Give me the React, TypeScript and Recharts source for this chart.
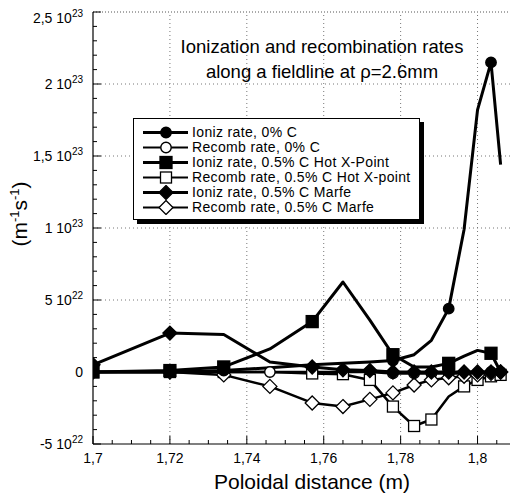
import React from "react";
import { LineChart, Line, XAxis, YAxis, ReferenceLine, Legend } from "recharts";

// poloidal distance along the fieldline (m)
const distance = [1.7, 1.72, 1.734, 1.746, 1.757, 1.765, 1.772, 1.778, 1.7835, 1.788, 1.7925, 1.7965, 1.8, 1.8035, 1.806];

// rates, in units of 1e22 m^-1 s^-1
const ionizC0 = [0, 0, 0.1, 0.3, 0.5, 0.6, 0.7, 0.8, 1.2, 2.2, 4.4, 9.9, 18.2, 21.5, 14.4];
const recombC0 = [0, 0, 0, 0, 0, 0, 0, -0.1, -0.1, -0.1, -0.1, -0.1, -0.1, 0, 0];
const ionizHot = [0, 0.1, 0.35, 1.6, 3.5, 6.25, 3.6, 1.2, 0.35, 0.35, 0.6, 1.1, 1.5, 1.3, 0];
const recombHot = [0, 0, 0, 0, -0.1, -0.15, -0.55, -2.4, -3.75, -3.3, -1.7, -1.0, -0.55, -0.3, -0.2];
const ionizMarfe = [0.5, 2.7, 2.6, 0.7, 0.35, 0.15, 0.1, 0, 0, 0, 0, 0, 0, 0, 0];
const recombMarfe = [0, 0, -0.2, -1.0, -2.15, -2.4, -1.9, -1.45, -0.9, -0.55, -0.4, -0.3, -0.2, -0.1, 0];

const X_MAJOR = [1.7, 1.72, 1.74, 1.76, 1.78, 1.8];
const X_LABELS = ["1,7", "1,72", "1,74", "1,76", "1,78", "1,8"];
const Y_MAJOR = [-5, 0, 5, 10, 15, 20, 25];
const Y_LABELS: [string, string][] = [
    ["-5 10", "22"], ["0", ""], ["5 10", "22"], ["1 10", "23"],
    ["1,5 10", "23"], ["2 10", "23"], ["2,5 10", "23"],
];

const FONT = "'Liberation Sans', Arial, Helvetica, sans-serif";
const W = 510;
const H = 489;

// minor ticks every 0.005 m and every 1e22
const xTicks: number[] = [];
for (let i = 0; i <= 22; i++) xTicks.push(+(1.7 + i * 0.005).toFixed(3));
const yTicks: number[] = [];
for (let v = -5; v <= 25; v++) yTicks.push(v);

type Shape = "circle" | "square" | "diamond";

const series = [
    { key: "ionizC0", name: "Ioniz rate, 0% C", shape: "circle" as Shape, filled: true, width: 3, hide: [3, 4, 5, 6, 8, 9, 11, 12, 14] },
    { key: "recombC0", name: "Recomb rate, 0% C", shape: "circle" as Shape, filled: false, width: 2.5, hide: [] as number[] },
    { key: "ionizHot", name: "Ioniz rate, 0.5% C Hot X-Point", shape: "square" as Shape, filled: true, width: 3, hide: [3, 5, 6, 8, 9, 11, 12, 14] },
    { key: "recombHot", name: "Recomb rate, 0.5% C Hot X-point", shape: "square" as Shape, filled: false, width: 2.5, hide: [3, 10] },
    { key: "ionizMarfe", name: "Ioniz rate, 0.5% C Marfe", shape: "diamond" as Shape, filled: true, width: 3, hide: [2, 3] },
    { key: "recombMarfe", name: "Recomb rate, 0.5% C Marfe", shape: "diamond" as Shape, filled: false, width: 2.5, hide: [] as number[] },
];

function Marker({ cx, cy, shape, filled }: { cx: number; cy: number; shape: Shape; filled: boolean }) {
    const fill = filled ? "#000" : "#fff";
    if (shape === "circle") {
        return <circle cx={cx} cy={cy} r={5.2} fill={fill} stroke="#000" strokeWidth={1.4} />;
    }
    if (shape === "square") {
        const s = filled ? 6 : 5.5;
        return <rect x={cx - s} y={cy - s} width={2 * s} height={2 * s} fill={fill} stroke="#000" strokeWidth={1.3} />;
    }
    const d = 7;
    return (
        <polygon
            points={`${cx},${cy - d} ${cx + d},${cy} ${cx},${cy + d} ${cx - d},${cy}`}
            fill={fill}
            stroke="#000"
            strokeWidth={1.3}
        />
    );
}

const XTick = (props: any) => {
    const { x, y, payload } = props;
    const i = X_MAJOR.findIndex((v) => Math.abs(v - payload.value) < 1e-6);
    return (
        <g>
            <line x1={x} x2={x} y1={y} y2={y - (i >= 0 ? 8 : 4)} stroke="#000" strokeWidth={1} />
            {i >= 0 && (
                <text x={x} y={y + 19} textAnchor="middle" fontSize={14} fontFamily={FONT} fill="#000">
                    {X_LABELS[i]}
                </text>
            )}
        </g>
    );
};

const YTick = (props: any) => {
    const { x, y, payload } = props;
    const i = Y_MAJOR.indexOf(payload.value);
    // the top label sits a little below its tick so it stays inside the page
    const ty = payload.value === 25 ? y + 11 : y + 5;
    return (
        <g>
            <line x1={x} x2={x + (i >= 0 ? 8 : 4)} y1={y} y2={y} stroke="#000" strokeWidth={1} />
            {i >= 0 && (
                <text x={x - 10} y={ty} textAnchor="end" fontSize={14} fontFamily={FONT} fill="#000">
                    <tspan>{Y_LABELS[i][0]}</tspan>
                    {Y_LABELS[i][1] && (
                        <tspan dy={-6} fontSize={10}>
                            {Y_LABELS[i][1]}
                        </tspan>
                    )}
                </text>
            )}
        </g>
    );
};

function LegendBox() {
    return (
        <div
            style={{
                width: 287,
                height: 102,
                border: "1px solid #000",
                boxShadow: "4px 4px 0 #000",
                background: "#fff",
                boxSizing: "border-box",
                paddingTop: 6,
                fontFamily: FONT,
                fontSize: 14,
                letterSpacing: 0.35,
            }}
        >
            {series.map((s) => (
                <div key={s.key} style={{ display: "flex", alignItems: "center", height: 15 }}>
                    <svg width={58} height={15} style={{ flex: "none" }}>
                        <line x1={9} x2={54} y1={7.5} y2={7.5} stroke="#000" strokeWidth={s.filled ? 3 : 1.8} />
                        <Marker cx={32} cy={7.5} shape={s.shape} filled={s.filled} />
                    </svg>
                    <span style={{ whiteSpace: "nowrap", lineHeight: "15px" }}>{s.name}</span>
                </div>
            ))}
        </div>
    );
}

export default function App() {
    const data = distance.map((x, i) => ({
        x,
        ionizC0: ionizC0[i],
        recombC0: recombC0[i],
        ionizHot: ionizHot[i],
        recombHot: recombHot[i],
        ionizMarfe: ionizMarfe[i],
        recombMarfe: recombMarfe[i],
    }));

    const drawOrder = [1, 3, 5, 0, 2, 4];

    return (
        <div style={{ position: "relative", width: W, height: H, fontFamily: FONT }}>
            <LineChart width={W} height={H} data={data} margin={{ top: 4, right: 2, left: 0, bottom: 0 }}>
                <XAxis
                    dataKey="x"
                    type="number"
                    domain={[1.7, 1.81]}
                    ticks={xTicks}
                    interval={0}
                    tick={XTick}
                    tickLine={false}
                    tickSize={0}
                    tickMargin={0}
                    height={53}
                    axisLine={{ stroke: "#000", strokeWidth: 1.2 }}
                    allowDataOverflow
                />
                <YAxis
                    type="number"
                    domain={[-5, 25]}
                    ticks={yTicks}
                    interval={0}
                    tick={YTick}
                    tickLine={false}
                    tickSize={0}
                    tickMargin={0}
                    width={85}
                    axisLine={{ stroke: "#000", strokeWidth: 1.2 }}
                    allowDataOverflow
                />
                {X_MAJOR.slice(1).map((v) => (
                    <ReferenceLine key={`gx${v}`} x={v} stroke="#777" strokeDasharray="1 3" />
                ))}
                {[5, 10, 15, 20].map((v) => (
                    <ReferenceLine key={`gy${v}`} y={v} stroke="#777" strokeDasharray="1 3" />
                ))}
                <ReferenceLine y={25} stroke="#555" strokeDasharray="1 2" />
                <ReferenceLine x={1.81} stroke="#555" strokeDasharray="1 2" />
                <Legend
                    layout="vertical"
                    align="center"
                    verticalAlign="middle"
                    content={() => <LegendBox />}
                    wrapperStyle={{ left: 125, top: 110, width: 292, height: 106 }}
                />
                {drawOrder.map((k) => {
                    const s = series[k];
                    return (
                        <Line
                            key={s.key}
                            dataKey={s.key}
                            name={s.name}
                            stroke="#000"
                            strokeWidth={s.width}
                            strokeLinejoin="round"
                            isAnimationActive={false}
                            dot={(p: any) =>
                                s.hide.includes(p.index) ? (
                                    <g key={`${s.key}-${p.index}`} />
                                ) : (
                                    <Marker key={`${s.key}-${p.index}`} cx={p.cx} cy={p.cy} shape={s.shape} filled={s.filled} />
                                )
                            }
                            activeDot={false}
                        />
                    );
                })}
            </LineChart>
            <svg
                width={W}
                height={H}
                style={{ position: "absolute", left: 0, top: 0, pointerEvents: "none" }}
            >
                <text x={314} y={45} textAnchor="middle" fontSize={18.5} fontFamily={FONT}>
                    Ionization and recombination rates
                </text>
                <text x={314} y={70} textAnchor="middle" fontSize={18.5} fontFamily={FONT}>
                    along a fieldline at ρ=2.6mm
                </text>
                <text x={304} y={481} textAnchor="middle" fontSize={21} fontFamily={FONT}>
                    Poloidal distance (m)
                </text>
                <text transform="translate(19,206) rotate(-90)" textAnchor="middle" fontSize={21} fontFamily={FONT}>
                    <tspan>(m</tspan>
                    <tspan dy={-8} fontSize={13}>-1</tspan>
                    <tspan dy={8}>s</tspan>
                    <tspan dy={-8} fontSize={13}>-1</tspan>
                    <tspan dy={8}>)</tspan>
                </text>
            </svg>
        </div>
    );
}
